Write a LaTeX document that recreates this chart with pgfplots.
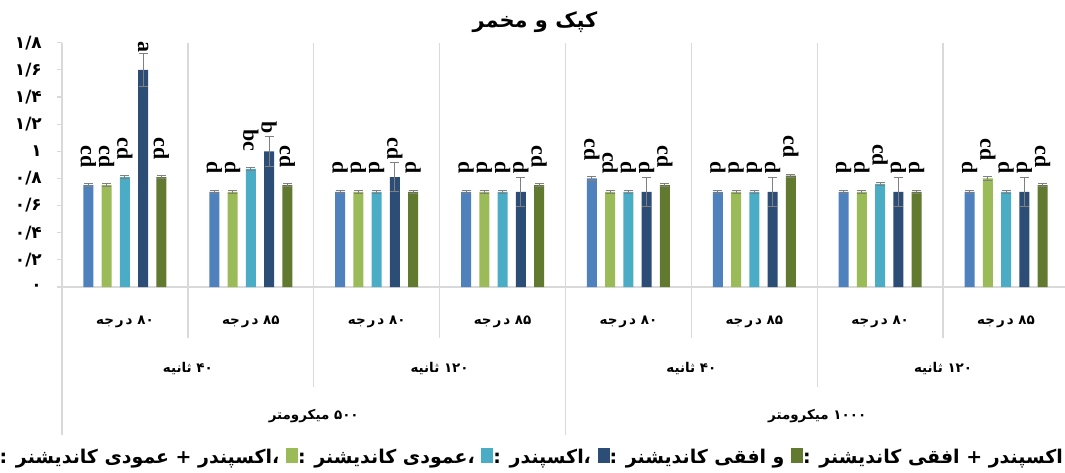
\documentclass[border=0pt]{standalone}
\usepackage{pgfplots}
\pgfplotsset{compat=1.18}
\usepackage{pgfplotstable}
\usepackage{fontspec}
\setmainfont{Liberation Serif}
\newfontfamily\fa[Script=Arabic]{DejaVu Sans}
\TeXXeTstate=1

\definecolor{cA}{HTML}{4F81BD}
\definecolor{cB}{HTML}{9BBB59}
\definecolor{cC}{HTML}{4BACC6}
\definecolor{cD}{HTML}{2C4D75}
\definecolor{cE}{HTML}{627A30}
\definecolor{gridc}{HTML}{D9D9D9}
\definecolor{errc}{HTML}{808080}

% g = group (0..7), y = mean, e = error, lab = letter group
\pgfplotstableread{
g y e lab
0 0.75 0.012 cd
1 0.70 0.012 d
2 0.70 0.012 d
3 0.70 0.012 d
4 0.80 0.012 cd
5 0.70 0.012 d
6 0.70 0.012 d
7 0.70 0.012 d
}\tA
\pgfplotstableread{
g y e lab
0 0.75 0.012 cd
1 0.70 0.012 d
2 0.70 0.012 d
3 0.70 0.012 d
4 0.70 0.012 cd
5 0.70 0.012 d
6 0.70 0.012 d
7 0.80 0.012 cd
}\tB
\pgfplotstableread{
g y e lab
0 0.81 0.012 cd
1 0.87 0.012 bc
2 0.70 0.012 d
3 0.70 0.012 d
4 0.70 0.012 d
5 0.70 0.012 d
6 0.76 0.012 cd
7 0.70 0.012 d
}\tC
\pgfplotstableread{
g y e lab
0 1.60 0.12 a
1 1.00 0.11 b
2 0.81 0.11 cd
3 0.70 0.11 d
4 0.70 0.11 d
5 0.70 0.11 d
6 0.70 0.11 d
7 0.70 0.11 d
}\tD
\pgfplotstableread{
g y e lab
0 0.81 0.012 cd
1 0.75 0.012 cd
2 0.70 0.012 d
3 0.75 0.012 cd
4 0.75 0.012 cd
5 0.82 0.012 cd
6 0.70 0.012 d
7 0.75 0.012 cd
}\tE

% colour key square and a single word box for the key line
\newcommand{\sq}[1]{\textcolor{#1}{\rule[0bp]{12bp}{15bp}}}
\newcommand{\w}[1]{\mbox{#1}}
\newcommand{\lbl}{\fa\bfseries\fontsize{13.5}{13.5}\selectfont}

\pgfplotsset{
  barser/.style={ybar, bar width=0.08, bar shift=0pt, fill=#1, draw=none,
    error bars/.cd, y dir=both, y explicit,
    error bar style={errc, line width=1bp},
    error mark options={rotate=90, mark size=4.5bp, errc, line width=1bp}},
  labser/.style={draw=none, nodes near coords, point meta=explicit symbolic,
    nodes near coords style={rotate=-90, anchor=east, inner sep=0pt,
      font=\bfseries\fontsize{22}{22}\selectfont}},
}

\begin{document}
\begin{tikzpicture}
\begin{axis}[
  at={(62bp,186bp)}, anchor=south west,
  scale only axis, width=1007bp, height=244.3bp,
  xmin=-0.5, xmax=7.5, ymin=0, ymax=1.8,
  clip=false,
  axis line style={draw=none},
  xtick=\empty,
  ytick={0,0.2,0.4,0.6,0.8,1,1.2,1.4,1.6,1.8},
  yticklabels={۰,۰/۲,۰/۴,۰/۶,۰/۸,۱,۱/۲,۱/۴,۱/۶,۱/۸},
  tick align=outside, major tick length=5bp,
  ytick style={draw=gridc, line width=1.2bp},
  yticklabel style={anchor=east, inner sep=0pt, xshift=-15bp,
    font=\fa\bfseries\fontsize{17}{17}\selectfont},
]
% frame lines and group separators
\draw[gridc, line width=1.3bp] (axis cs:-0.5,0) -- (axis cs:7.5,0);
\draw[gridc, line width=1.3bp] (axis cs:-0.5,1.8) -- (axis cs:-0.5,-1.09);
\pgfplotsinvokeforeach{0.5,2.5,4.5,6.5}{
  \draw[gridc, line width=1.3bp] (axis cs:#1,1.8) -- (axis cs:#1,-0.376);}
\pgfplotsinvokeforeach{1.5,5.5}{
  \draw[gridc, line width=1.3bp] (axis cs:#1,1.8) -- (axis cs:#1,-0.737);}
\draw[gridc, line width=1.3bp] (axis cs:3.5,1.8) -- (axis cs:3.5,-1.09);

\addplot[barser=cA] table[x expr=\thisrow{g}-0.29, y=y, y error=e] {\tA};
\addplot[barser=cB] table[x expr=\thisrow{g}-0.145, y=y, y error=e] {\tB};
\addplot[barser=cC] table[x expr=\thisrow{g}, y=y, y error=e] {\tC};
\addplot[barser=cD] table[x expr=\thisrow{g}+0.145, y=y, y error=e] {\tD};
\addplot[barser=cE] table[x expr=\thisrow{g}+0.29, y=y, y error=e] {\tE};

\addplot[labser] table[x expr=\thisrow{g}-0.29, y expr=\thisrow{y}+0.13, meta=lab] {\tA};
\addplot[labser] table[x expr=\thisrow{g}-0.145, y expr=\thisrow{y}+0.13, meta=lab] {\tB};
\addplot[labser] table[x expr=\thisrow{g}, y expr=\thisrow{y}+0.13, meta=lab] {\tC};
\addplot[labser] table[x expr=\thisrow{g}+0.145, y expr=\thisrow{y}+0.13, meta=lab] {\tD};
\addplot[labser] table[x expr=\thisrow{g}+0.29, y expr=\thisrow{y}+0.13, meta=lab] {\tE};

% category labels, three levels
\pgfplotsinvokeforeach{0,2,4,6}{
  \node[font=\lbl] at (axis cs:#1,-0.258) {\beginR ۸۰ د\kern2bp ر\kern2bp جه\endR};}
\pgfplotsinvokeforeach{1,3,5,7}{
  \node[font=\lbl] at (axis cs:#1,-0.258) {\beginR ۸۵ د\kern2bp ر\kern2bp جه\endR};}
\pgfplotsinvokeforeach{0.5,4.5}{
  \node[font=\lbl] at (axis cs:#1,-0.604) {\beginR ۴۰ ثانیه\endR};}
\pgfplotsinvokeforeach{2.5,6.5}{
  \node[font=\lbl] at (axis cs:#1,-0.604) {\beginR ۱۲۰ ثانیه\endR};}
\node[font=\lbl] at (axis cs:1.5,-0.95) {\beginR ۵۰۰ میکرومتر\endR};
\node[font=\lbl] at (axis cs:5.5,-0.95) {\beginR ۱۰۰۰ میکرومتر\endR};
\end{axis}

% title
\node[font=\fa\bfseries\fontsize{21}{21}\selectfont] at (535bp,451bp) {\beginR کپک و مخمر\endR};
% series key line, words set left to right
\node[anchor=east, inner sep=0pt, font=\fa\bfseries\fontsize{19}{19}\selectfont] at (1063bp,15bp)
  {\sq{cA}: \w{کاندیشنر} \w{عمودی} + \w{اکسپندر}\w{،} \sq{cB}: \w{کاندیشنر} \w{عمودی}\w{،} \sq{cC}: \w{اکسپندر}\w{،} \sq{cD}: \w{کاندیشنر} \w{افقی} \w{و} \sq{cE}: \w{کاندیشنر} \w{افقی} + \w{اکسپندر}};

\pgfresetboundingbox
\useasboundingbox (0,0) rectangle (1065bp,473bp);
\end{tikzpicture}
\end{document}
